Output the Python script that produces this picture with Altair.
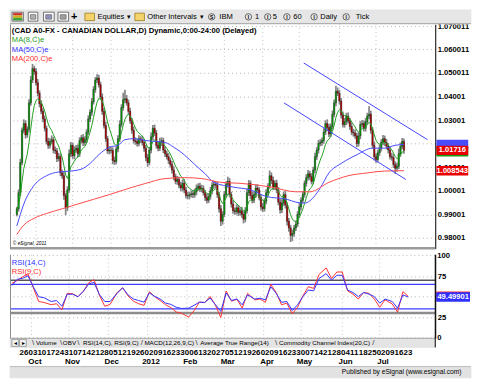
import altair as alt
import pandas as pd

# ---------------- values ----------------
closes = [
    0.9924, 0.9992, 1.0120, 1.0257, 1.0285, 1.0237, 1.0261, 1.0373, 1.0470, 1.0518,
    1.0506, 1.0458, 1.0414, 1.0369, 1.0337, 1.0305, 1.0265, 1.0209, 1.0193, 1.0209,
    1.0217, 1.0173, 1.0169, 1.0137, 1.0145, 1.0076, 1.0064, 0.9980, 0.9928, 1.0004,
    1.0157, 1.0193, 1.0149, 1.0173, 1.0181, 1.0157, 1.0213, 1.0225, 1.0205, 1.0217,
    1.0249, 1.0305, 1.0333, 1.0378, 1.0430, 1.0470, 1.0478, 1.0450, 1.0398, 1.0337,
    1.0277, 1.0221, 1.0169, 1.0173, 1.0171, 1.0129, 1.0124, 1.0177, 1.0221, 1.0281,
    1.0353, 1.0386, 1.0390, 1.0373, 1.0337, 1.0297, 1.0257, 1.0213, 1.0209, 1.0201,
    1.0221, 1.0217, 1.0205, 1.0181, 1.0141, 1.0120, 1.0173, 1.0229, 1.0265, 1.0245,
    1.0193, 1.0181, 1.0205, 1.0213, 1.0173, 1.0157, 1.0145, 1.0129, 1.0112, 1.0088,
    1.0060, 1.0040, 1.0048, 1.0024, 1.0012, 1.0032, 1.0004, 0.9980, 0.9978, 0.9984,
    0.9988, 0.9984, 0.9996, 1.0012, 1.0020, 1.0008, 1.0010, 0.9992, 0.9972, 0.9960,
    0.9976, 1.0000, 1.0024, 1.0028, 1.0024, 0.9984, 0.9924, 0.9871, 0.9900, 0.9984,
    1.0028, 1.0040, 0.9984, 0.9944, 0.9916, 0.9912, 0.9928, 0.9908, 0.9916, 0.9900,
    0.9880, 0.9916, 0.9992, 1.0032, 0.9980, 0.9960, 0.9984, 1.0012, 1.0004, 0.9972,
    0.9932, 0.9924, 0.9956, 0.9992, 1.0020, 1.0064, 1.0044, 1.0016, 1.0032, 1.0004,
    0.9952, 0.9920, 0.9948, 0.9984, 0.9940, 0.9871, 0.9843, 0.9811, 0.9819, 0.9843,
    0.9859, 0.9900, 0.9932, 0.9960, 0.9984, 1.0032, 1.0056, 1.0072, 1.0060, 1.0040,
    1.0088, 1.0145, 1.0173, 1.0201, 1.0205, 1.0213, 1.0249, 1.0285, 1.0269, 1.0241,
    1.0273, 1.0325, 1.0373, 1.0422, 1.0414, 1.0381, 1.0321, 1.0281, 1.0293, 1.0317,
    1.0297, 1.0273, 1.0249, 1.0245, 1.0233, 1.0201, 1.0233, 1.0281, 1.0285, 1.0265,
    1.0293, 1.0317, 1.0325, 1.0257, 1.0193, 1.0145, 1.0133, 1.0161, 1.0181, 1.0205,
    1.0221, 1.0205, 1.0189, 1.0173, 1.0145, 1.0141, 1.0112, 1.0096, 1.0104, 1.0157,
    1.0189, 1.0209, 1.01716,
]
first_open = 0.9900
# upper / lower shadow lengths in pips
wick_up = [
    8, 14, 16, 12, 18, 14, 12, 15, 17, 20,
    12, 14, 16, 12, 15, 13, 14, 12, 16, 14,
    18, 12, 15, 13, 16, 12, 14, 16, 12, 15,
    18, 14, 12, 16, 13, 15, 14, 12, 16, 14,
    12, 15, 13, 16, 14, 12, 16, 14, 13, 15,
    14, 16, 12, 15, 14, 13, 16, 12, 15, 18,
    14, 30, 38, 16, 14, 15, 12, 16, 14, 13,
    15, 12, 16, 14, 13, 15, 12, 18, 14, 16,
    13, 15, 20, 14, 12, 16, 13, 15, 12, 14,
    16, 13, 15, 12, 14, 16, 18, 13, 15, 12,
    14, 16, 13, 15, 12, 14, 16, 13, 12, 15,
    14, 16, 12, 15, 13, 14, 12, 16, 14, 15,
    13, 20, 14, 12, 16, 13, 15, 12, 14, 16,
    13, 15, 18, 14, 12, 16, 13, 15, 16, 12,
    14, 16, 13, 15, 12, 22, 14, 16, 13, 15,
    12, 14, 16, 13, 15, 12, 14, 13, 16, 12,
    15, 14, 16, 13, 15, 12, 14, 16, 13, 15,
    14, 16, 12, 15, 14, 13, 16, 14, 18, 15,
    13, 16, 14, 24, 16, 14, 13, 15, 16, 14,
    15, 13, 16, 14, 15, 13, 16, 14, 15, 13,
    16, 14, 34, 15, 13, 16, 14, 13, 15, 14,
    16, 13, 15, 14, 13, 16, 14, 13, 15, 22,
    16, 15, 13,
]
wick_dn = [
    8, 12, 14, 12, 13, 15, 12, 14, 12, 13,
    14, 12, 13, 15, 12, 14, 13, 12, 15, 13,
    12, 14, 13, 15, 12, 14, 13, 18, 31, 14,
    12, 14, 13, 15, 12, 14, 13, 12, 15, 13,
    14, 12, 13, 15, 12, 14, 13, 12, 14, 15,
    13, 14, 12, 15, 13, 16, 14, 12, 13, 14,
    12, 13, 15, 12, 14, 13, 15, 12, 14, 13,
    12, 14, 13, 15, 16, 18, 12, 14, 13, 12,
    14, 13, 12, 15, 13, 14, 12, 15, 13, 14,
    15, 12, 14, 13, 12, 15, 14, 12, 13, 14,
    12, 14, 13, 15, 12, 13, 14, 12, 15, 14,
    12, 13, 14, 15, 12, 14, 16, 20, 14, 12,
    13, 14, 12, 15, 13, 14, 12, 15, 13, 14,
    18, 13, 12, 14, 15, 13, 12, 14, 13, 12,
    15, 14, 12, 13, 14, 12, 15, 13, 12, 14,
    13, 16, 14, 12, 15, 18, 16, 28, 24, 14,
    13, 12, 15, 14, 12, 13, 14, 12, 15, 13,
    12, 13, 14, 15, 12, 14, 13, 12, 14, 13,
    12, 14, 13, 14, 12, 15, 14, 12, 13, 14,
    12, 14, 13, 15, 12, 16, 13, 14, 12, 13,
    14, 12, 13, 15, 14, 16, 14, 12, 13, 14,
    12, 15, 13, 14, 12, 13, 15, 24, 14, 12,
    13, 12, 14,
]

ma50_day = [0, 4, 10, 17, 24, 31, 37, 42, 47, 53, 58, 62, 67, 74, 85, 90, 96, 102, 108, 113,
            124, 134, 143, 155, 160, 165, 171, 174, 179, 186, 195, 204, 211, 217, 222]
ma50_val = [0.9851, 0.9944, 1.0024, 1.0064, 1.0080, 1.0084, 1.0092, 1.0116, 1.0153, 1.0185,
            1.0193, 1.0217, 1.0221, 1.0213, 1.0205, 1.0185, 1.0153, 1.0112, 1.0072, 1.0036,
            1.0016, 1.0004, 0.9976, 0.9964, 0.9952, 0.9948, 0.9980, 1.0012, 1.0076, 1.0116,
            1.0153, 1.0181, 1.0181, 1.0193, 1.0197]
ma200_day = [0, 4, 10, 17, 26, 35, 44, 53, 58, 74, 85, 96, 106, 117, 128, 146, 160, 168, 179,
             190, 201, 211, 222]
ma200_val = [0.9815, 0.9855, 0.9884, 0.9904, 0.9924, 0.9944, 0.9964, 0.9984, 0.9996, 1.0032,
             1.0052, 1.0056, 1.0052, 1.0036, 1.0032, 1.0016, 0.9996, 0.9996, 1.0036, 1.0064,
             1.0076, 1.0084, 1.008543]

trend_name = ["upper", "upper", "lower", "lower"]
trend_day = [164.5, 235.5, 153.2, 223.1]
trend_val = [1.0542, 1.0217, 1.0373, 1.0048]

rsi_day = [0, 3, 6, 9, 12, 15, 18, 22, 25, 28, 31, 34, 37, 40, 43, 46, 49, 52, 55, 59,
           62, 65, 68, 71, 74, 77, 80, 83, 86, 89, 92, 95, 99, 102, 105, 108, 111, 114, 117, 120,
           123, 126, 129, 132, 136, 139, 142, 145, 148, 151, 154, 157, 160, 163, 166, 169, 172, 176, 179, 182,
           185, 188, 191, 194, 197, 200, 203, 206, 209, 213, 216, 219, 222]
rsi14 = [63.4, 71.1, 72.3, 75.4, 61.8, 49.8, 48.6, 44.0, 45.2, 38.2,
         52.9, 52.9, 49.8, 56.4, 65.3, 67.3, 52.5, 44.0, 44.0, 54.1,
         60.7, 52.1, 47.1, 45.2, 43.2, 54.5, 50.2, 47.1, 42.1, 40.5,
         37.0, 35.5, 35.9, 39.3, 43.2, 42.8, 48.3, 40.1, 32.0, 54.5,
         45.2, 47.1, 40, 52, 47, 48, 46, 62, 54, 43,
         44, 33, 40, 50, 58, 57, 72, 78, 70, 76,
         76, 58, 55, 50, 55, 53, 50, 42, 47, 44,
         36, 52, 49.49901]
rsi9 = [66.1, 69.6, 74.2, 77.7, 60.7, 44.0, 42.8, 40.1, 41.3, 33.9,
        54.0, 53.5, 49.8, 56.4, 66.9, 70.7, 51.7, 38.2, 40.5, 55.2,
        60.7, 51.0, 44.4, 41.3, 39.3, 56.0, 49.8, 45.2, 40.1, 36.6,
        31.2, 29.7, 25.0, 32.8, 43.2, 42.8, 50.2, 39.3, 24.5, 56.8,
        44.4, 46.7, 36, 54, 46, 47, 43, 65, 55, 40,
        42, 29, 37, 51, 62, 60, 77, 85, 72, 80,
        80, 57, 53, 47, 55, 54, 47, 37, 46, 41,
        31, 56, 50.3]
rsi_level_val = [30, 70, 65, 35]

week_labels = ["26", "03", "10", "17", "24", "31", "07", "14", "21", "28", "05", "12", "19", "26",
               "02", "09", "16", "23", "30", "06", "13", "20", "27", "05", "12", "19", "26", "02",
               "09", "16", "23", "30", "07", "14", "21", "28", "04", "11", "18", "25", "02", "09",
               "16", "23"]
first_monday_day = 6
month_labels = ["Oct", "Nov", "Dec", "2012", "Feb", "Mar", "Apr", "May", "Jun", "Jul"]
month_day = [11, 32, 54, 76, 98, 119, 141, 162, 185, 206]
price_ticks = [0.98001, 0.99001, 1.00001, 1.01001, 1.02001, 1.03001, 1.04001, 1.050011, 1.060011, 1.070011]
rsi_ticks = [25, 50, 75]
rsi_edge_ticks = [100, 0]

title_text = "(CAD A0-FX - CANADIAN DOLLAR,D) Dynamic,0:00-24:00 (Delayed)"
tab_texts = ["Volume", "OBV", "RSI(14,C), RSI(9,C)", "MACD(12,26,9,C)", "Average True Range(14)",
             "Commodity Channel Index(20,C)"]

# ---------------- tables ----------------
n = len(closes)
opens = [first_open] + closes[:-1]
cdf = pd.DataFrame({
    "day": list(range(n)),
    "open": opens,
    "close": closes,
    "high": [max(o, c) + u / 10000 for o, c, u in zip(opens, closes, wick_up)],
    "low": [min(o, c) - d / 10000 for o, c, d in zip(opens, closes, wick_dn)],
    "dir": ["up" if c >= o else "down" for o, c in zip(opens, closes)],
})
cdf["ma8"] = cdf["close"].ewm(span=8, adjust=False).mean()
ma50_df = pd.DataFrame({"day": ma50_day, "v": ma50_val})
ma200_df = pd.DataFrame({"day": ma200_day, "v": ma200_val})
trend_df = pd.DataFrame({"name": trend_name, "day": trend_day, "v": trend_val})
rsi_df = pd.DataFrame({"day": rsi_day, "r14": rsi14, "r9": rsi9})
lev_df = pd.DataFrame({"v": rsi_level_val, "c": ["#8c8c8c", "#000000", "#3c3cff", "#3c3cff"],
                       "w": [2.6, 1, 1.3, 1.3]})
week_df = pd.DataFrame({"day": [first_monday_day + 5 * k for k in range(len(week_labels))],
                        "t": week_labels})
month_df = pd.DataFrame({"day": month_day, "t": month_labels})
box_df = pd.DataFrame({
    "v": [ma50_val[-1], float(cdf["ma8"].iloc[-1]), closes[-1], ma200_val[-1]],
    "c": ["#4a4aff", "#10a010", "#e80000", "#e80000"],
    "t": ["", "", "1.01716", "1.008543"],
})
rbox_df = pd.DataFrame({"v": [rsi9[-1], rsi14[-1]], "c": ["#ff3030", "#3030ff"], "t": ["", "49.49901"]})
redge_df = pd.DataFrame({"v": rsi_edge_ticks, "t": [str(v) for v in rsi_edge_ticks],
                         "off": [4.6, -4.2]})
one = pd.DataFrame({"k": [0]})

# ---------------- layout ----------------
FONT = "Liberation Sans"
W, HM, HR = 428, 226, 84
xs = alt.Scale(domain=[-1.08, 237.1], nice=False, zero=False)
ys = alt.Scale(domain=[0.97550, 1.07068], nice=False, zero=False)
rys = alt.Scale(domain=[-0.6, 101.2], nice=False, zero=False)
X = alt.X("day:Q", scale=xs, axis=None, title=None)

price_axis = alt.Axis(orient="right", values=price_ticks, format=".6~f", ticks=False, labelPadding=2,
                      labelFont=FONT, labelFontSize=7.7, labelFontWeight="bold", labelColor="black",
                      domainColor="black", domainWidth=1, grid=True, gridColor="#b4b4b4",
                      gridDash=[1, 3], labelFlush=10, labelFlushOffset=3, labelOverlap=False, title=None)
rsi_axis = alt.Axis(orient="right", values=rsi_ticks, format="d", ticks=False, labelPadding=2,
                    labelFont=FONT, labelFontSize=7.7, labelFontWeight="bold", labelColor="black",
                    domainColor="black", domainWidth=1, grid=True, gridColor="#b4b4b4", gridDash=[1, 3],
                    labelOverlap=False, labelExpr="datum.value == 50 ? '' : datum.label", title=None)


def Yp(f):
    return alt.Y(f, scale=ys, axis=price_axis, title=None)


def Yr(f):
    return alt.Y(f, scale=rys, axis=rsi_axis, title=None)


def label(t, x, y, size=7.6, color="black", weight="normal", align="left", style="normal"):
    return alt.Chart(one).mark_text(text=t, align=align, baseline="middle", fontSize=size, color=color,
                                    fontWeight=weight, font=FONT, fontStyle=style).encode(
        x=alt.value(x), y=alt.value(y))


def box(x, y, x2, y2, fill, stroke=None, sw=0.8):
    return alt.Chart(one).mark_rect(fill=fill, stroke=stroke if stroke else fill, strokeWidth=sw).encode(
        x=alt.value(x), x2=alt.value(x2), y=alt.value(y), y2=alt.value(y2))


def hline(x, x2, y, color, w=1):
    return alt.Chart(one).mark_rule(color=color, strokeWidth=w).encode(
        x=alt.value(x), x2=alt.value(x2), y=alt.value(y))


def vline(x, y, y2, color, w=1):
    return alt.Chart(one).mark_rule(color=color, strokeWidth=w).encode(
        x=alt.value(x), y=alt.value(y), y2=alt.value(y2))


def icon_circle(x, y):
    return alt.Chart(one).mark_point(shape="circle", filled=False, size=42, color="#303030",
                                     strokeWidth=1).encode(x=alt.value(x), y=alt.value(y))


month_grid = alt.Chart(month_df).mark_rule(color="#c4c4c4", strokeDash=[1, 3], strokeWidth=1).encode(x=X)

# ---------------- main price panel ----------------
wicks = alt.Chart(cdf).mark_rule(color="#858585", strokeWidth=1.7).encode(
    x=X, y=Yp("low:Q"), y2="high:Q")
bodies = alt.Chart(cdf).mark_bar(size=1.4, stroke="#101010", strokeWidth=0.35).encode(
    x=X, y=Yp("open:Q"), y2="close:Q",
    color=alt.Color("dir:N", scale=alt.Scale(domain=["up", "down"], range=["#00a800", "#c00000"]), legend=None))
ma8_line = alt.Chart(cdf).mark_line(color="#22a022", strokeWidth=1).encode(x=X, y=Yp("ma8:Q"))
ma50_line = alt.Chart(ma50_df).mark_line(color="#4a4aff", strokeWidth=1, interpolate="monotone").encode(
    x=X, y=Yp("v:Q"))
ma200_line = alt.Chart(ma200_df).mark_line(color="#ff4a4a", strokeWidth=1, interpolate="monotone").encode(
    x=X, y=Yp("v:Q"))
trend = alt.Chart(trend_df).mark_line(color="#4646ff", strokeWidth=1).encode(
    x=X, y=Yp("v:Q"), detail="name:N")
pboxes = alt.Chart(box_df).mark_tick(orient="horizontal", size=32, thickness=9.5, opacity=1).encode(
    x=alt.value(445.2), y=Yp("v:Q"), color=alt.Color("c:N", scale=None))
pbox_text = alt.Chart(box_df).mark_text(color="white", fontWeight="bold", fontSize=7.6, font=FONT,
                                        baseline="middle").encode(
    x=alt.value(445.2), y=Yp("v:Q"), text="t:N")

toolbar = [
    box(0, -14.3, 464, 0, "#e6e6e6", "#e6e6e6"),
    hline(0, 464, -0.5, "#a8a8a8", 1),
    box(2, -12, 13.5, -3, "#d8d8d8", "#606060"),
    box(3.5, -10.8, 12, -9.2, "#d03030"),
    box(3.5, -8.3, 12, -6.7, "#d0b020"),
    box(3.5, -5.8, 12, -4.2, "#30a030"),
    box(18.4, -12, 28, -3, "#ffffff", "#505050"),
    box(20.5, -9.5, 26, -5, "#b0b0b0", "#707070"),
    box(33.8, -12, 44.5, -3, "#ffffff", "#505050"),
    box(36, -9.5, 42, -5, "#9090c0", "#707070"),
    box(48.3, -12, 59, -3, "#ffffff", "#505050"),
    box(50.5, -9.5, 56.5, -5, "#a0a0a0", "#707070"),
    label("+", 61.5, -7.4, size=11, weight="bold"),
    box(75.4, -11, 85.1, -3.5, "#f4d36b", "#9a7a20"),
    label("Equities", 88, -7.1, size=7.6),
    label("▾", 117.5, -7.1, size=7),
    box(125.7, -11, 135.3, -3.5, "#f4d36b", "#9a7a20"),
    label("Other Intervals", 138.2, -7.1, size=7.6),
    label("▾", 191, -7.1, size=7),
    icon_circle(203, -7.3), label("S", 203, -7.2, size=5, align="center", weight="bold"),
    label("IBM", 210.7, -7.1, size=7.6),
]
for cx, tx, tt in [(240, 246.5, "1"), (259.4, 264.4, "5"), (278.7, 285.2, "60"),
                   (306.1, 312.2, "Daily"), (338.4, 348, "Tick")]:
    toolbar += [icon_circle(cx, -7.3), label("I", cx, -7.2, size=5, align="center", weight="bold"),
                label(tt, tx, -7.1, size=7.6)]

main_text = [
    label(title_text, 1.9, 6.7, size=7.7, weight="bold"),
    label("MA(8,C)e", 1.9, 16.2, size=7.6, color="#1e9e1e"),
    label("MA(50,C)e", 1.9, 25.7, size=7.6, color="#2e2eff"),
    label("MA(200,C)e", 1.9, 35.3, size=7.6, color="#ff2e2e"),
    label("© eSignal, 2011", 2.9, 221, size=4.8, style="italic"),
    hline(0, W, HM - 0.5, "#9a9a9a", 2.5),
    vline(0.5, 0, HM, "#8a8a8a", 1),
]

main = alt.layer(month_grid, wicks, bodies, ma8_line, ma50_line, ma200_line, trend,
                 pboxes, pbox_text, *main_text, *toolbar).properties(width=W, height=HM)

# ---------------- RSI panel ----------------
levels = alt.Chart(lev_df).mark_rule().encode(
    y=Yr("v:Q"), color=alt.Color("c:N", scale=None), strokeWidth=alt.StrokeWidth("w:Q", scale=None))
r14_line = alt.Chart(rsi_df).mark_line(color="#3434ff", strokeWidth=1).encode(x=X, y=Yr("r14:Q"))
r9_line = alt.Chart(rsi_df).mark_line(color="#ff3434", strokeWidth=1).encode(x=X, y=Yr("r9:Q"))
edge_grid = alt.Chart(redge_df).mark_rule(color="#b4b4b4", strokeDash=[1, 3]).encode(y=Yr("v:Q"))
edge_text = alt.Chart(redge_df).transform_calculate(dummy="0").mark_text(
    align="left", baseline="middle", fontWeight="bold", fontSize=7.7, font=FONT, color="black").encode(
    x=alt.value(W + 2), y=Yr("v:Q"), text="t:N", yOffset=alt.YOffset("off:Q", scale=None))
rboxes = alt.Chart(rbox_df).mark_tick(orient="horizontal", size=34, thickness=9.5, opacity=1).encode(
    x=alt.value(446), y=Yr("v:Q"), color=alt.Color("c:N", scale=None))
rbox_text = alt.Chart(rbox_df).mark_text(color="white", fontWeight="bold", fontSize=7.6, font=FONT,
                                         baseline="middle").encode(
    x=alt.value(446), y=Yr("v:Q"), text="t:N")
week_text = alt.Chart(week_df).mark_text(fontWeight="bold", fontSize=8.0, font=FONT, baseline="middle",
                                         color="black", dx=1.4).encode(
    x=X, y=alt.value(98.6), text="t:N")
month_text = alt.Chart(month_df).mark_text(fontWeight="bold", fontSize=8.0, font=FONT, baseline="middle",
                                           color="black", dx=3.4).encode(
    x=X, y=alt.value(108.2), text="t:N")

tab_x = [26.1, 53.2, 73.5, 135.3, 191.4, 270.7]
sep_x = [22.2, 50.3, 67.7, 131.5, 186.6, 266.8, 364.5]
sep_c = ["\\", "\\", "\\", "/", "\\", "\\", "/"]
bottom = [
    box(0, 84, W, 93.4, "#e4e4e4", "#e4e4e4"),
    hline(0, W, 84.3, "#9a9a9a", 0.8),
    box(1.9, 85.3, 8.7, 92.3, "#f2f2f2", "#707070", 0.6),
    box(9.7, 85.3, 16.4, 92.3, "#f2f2f2", "#707070", 0.6),
    label("◂", 5.3, 88.7, size=6.5, align="center"),
    label("▸", 13.1, 88.7, size=6.5, align="center"),
    vline(W, 0, 93.4, "black", 1),
    vline(0.5, 0, 84, "#8a8a8a", 1),
    box(0, 112.5, 464, 124, "#e2e2e2", "#e2e2e2"),
    hline(0, 464, 112.7, "#b4b4b4", 0.8),
    label("Published by eSignal (www.esignal.com)", 454.4, 118.2, size=6.7, align="right"),
    label("RSI(14,C)", 1.9, 8.6, size=7.6, color="#2e2eff"),
    label("RSI(9,C)", 1.9, 17.2, size=7.6, color="#ff2e2e"),
]
for tx, tt in zip(tab_x, tab_texts):
    bottom.append(label(tt, tx, 88.8, size=6.3))
for sx, sc in zip(sep_x, sep_c):
    bottom.append(label(sc, sx, 88.6, size=8, color="#404040"))

rsi = alt.layer(month_grid, edge_grid, levels, r9_line, r14_line, rboxes, rbox_text, edge_text,
                week_text, month_text, *bottom).properties(width=W, height=HR)

chart = alt.vconcat(main, rsi, spacing=1, padding=0, background="white").configure_view(stroke=None)

chart.save("out.html", embed_options={"renderer": "svg", "actions": False})
